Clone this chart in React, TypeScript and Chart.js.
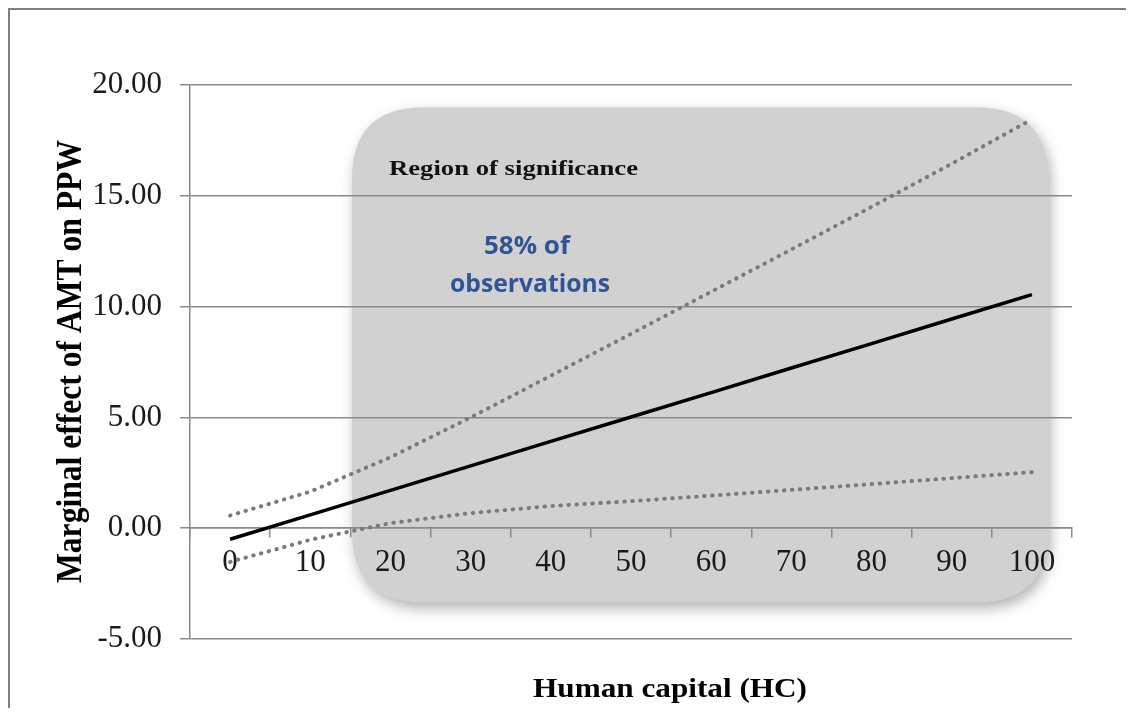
import React, { useEffect, useRef } from "react";
import { Chart, registerables } from "chart.js";

Chart.register(...registerables);

// ---- data ----
const categories = ["0", "10", "20", "30", "40", "50", "60", "70", "80", "90", "100"];
const marginalEffect = [-0.5, 0.6, 1.71, 2.81, 3.92, 5.02, 6.12, 7.23, 8.33, 9.44, 10.54];
const upperBound = [0.57, 1.65, 3.2, 5.0, 6.88, 8.77, 10.67, 12.58, 14.5, 16.45, 18.45];
const lowerBound = [-1.52, -0.52, 0.23, 0.68, 1.0, 1.22, 1.47, 1.73, 1.99, 2.26, 2.53];
const yTicks = [-5, 0, 5, 10, 15, 20];
// region of significance (HC units on x, effect units on y)
const regionHC = [15.2, 102];
const regionEffect = [-3.35, 19.0];

const yTitle = "Marginal effect of AMT on PPW";
const xTitle = "Human capital (HC)";
const regionTitle = "Region of significance";
const regionNote = ["58% of", "observations"];

const SERIF = "'Liberation Serif', 'Times New Roman', serif";
const SANS = "'Open Sans', 'Noto Sans', sans-serif";
const GRID = "#8a8a8a";

function drawFitted(
  ctx: CanvasRenderingContext2D,
  text: string,
  x: number,
  y: number,
  font: string,
  width: number,
  align: CanvasTextAlign,
  color: string,
  rotate = 0
) {
  ctx.save();
  ctx.font = font;
  const w = ctx.measureText(text).width;
  const sx = width / w;
  ctx.translate(x, y);
  if (rotate) ctx.rotate(rotate);
  ctx.scale(sx, 1);
  ctx.textAlign = align;
  ctx.textBaseline = "alphabetic";
  ctx.fillStyle = color;
  ctx.fillText(text, 0, 0);
  ctx.restore();
}

const regionPlugin = {
  id: "regionPlugin",
  beforeDraw(chart: any) {
    const { ctx, scales } = chart;
    const x = scales.x;
    const y = scales.y;
    const l = x.getPixelForValue(regionHC[0] / 10);
    const r = x.getPixelForValue(regionHC[1] / 10);
    const t = y.getPixelForValue(regionEffect[1]);
    const b = y.getPixelForValue(regionEffect[0]);
    const rad = 72;
    ctx.save();
    ctx.shadowColor = "rgba(0,0,0,0.3)";
    ctx.shadowBlur = 14;
    ctx.shadowOffsetX = 3;
    ctx.shadowOffsetY = 6;
    ctx.fillStyle = "#d1d1d1";
    ctx.beginPath();
    ctx.moveTo(l + rad, t);
    ctx.lineTo(r - rad, t);
    ctx.quadraticCurveTo(r, t, r, t + rad);
    ctx.lineTo(r, b - rad);
    ctx.quadraticCurveTo(r, b, r - rad, b);
    ctx.lineTo(l + rad, b);
    ctx.quadraticCurveTo(l, b, l, b - rad);
    ctx.lineTo(l, t + rad);
    ctx.quadraticCurveTo(l, t, l + rad, t);
    ctx.closePath();
    ctx.fill();
    ctx.restore();
  },
  afterDraw(chart: any) {
    const { ctx } = chart;
    drawFitted(ctx, regionTitle, 379, 165, `bold 22px ${SERIF}`, 249, "left", "#111");
    drawFitted(ctx, regionNote[0], 517, 244.3, `bold 25px ${SANS}`, 86, "center", "#2f5597");
    drawFitted(ctx, regionNote[1], 520, 281.7, `bold 25px ${SANS}`, 160, "center", "#2f5597");
    drawFitted(ctx, xTitle, 660, 687, `bold 28px ${SERIF}`, 274, "center", "#000");
    drawFitted(ctx, yTitle, 70.5, 351.5, `bold 36px ${SERIF}`, 443, "center", "#000", -Math.PI / 2);
  },
};

export default function App() {
  const ref = useRef<HTMLCanvasElement | null>(null);

  useEffect(() => {
    if (!ref.current) return;
    const chart = new Chart(ref.current, {
      type: "line",
      data: {
        labels: categories,
        datasets: [
          {
            label: "Marginal effect",
            data: marginalEffect,
            borderColor: "#000000",
            borderWidth: 3.5,
            pointRadius: 0,
            tension: 0,
            fill: false,
          },
          {
            label: "Upper bound",
            data: upperBound,
            borderColor: "#7a7a7a",
            borderWidth: 4,
            borderDash: [0.5, 7.5],
            borderCapStyle: "round",
            pointRadius: 0,
            tension: 0,
            fill: false,
          },
          {
            label: "Lower bound",
            data: lowerBound,
            borderColor: "#7a7a7a",
            borderWidth: 4,
            borderDash: [0.5, 7.5],
            borderCapStyle: "round",
            pointRadius: 0,
            tension: 0,
            fill: false,
          },
        ],
      },
      options: {
        animation: false,
        responsive: true,
        maintainAspectRatio: false,
        layout: { padding: { top: 75, right: 62, bottom: 69, left: 0 } },
        plugins: {
          legend: { display: false },
          tooltip: { enabled: false },
          title: { display: false },
        },
        scales: {
          x: {
            type: "category",
            position: { y: 0 } as any,
            offset: true,
            grid: {
              drawOnChartArea: false,
              drawTicks: true,
              tickLength: 9,
              offset: true,
              color: GRID,
              lineWidth: 1.5,
            },
            border: { display: true, color: GRID, width: 1.5 },
            ticks: {
              font: { family: SERIF, size: 31 },
              color: "#1a1a1a",
              padding: 7,
              maxRotation: 0,
              autoSkip: false,
            },
          },
          y: {
            min: yTicks[0],
            max: yTicks[yTicks.length - 1],
            ticks: {
              stepSize: yTicks[1] - yTicks[0],
              callback: (v: any) => Number(v).toFixed(2),
              font: { family: SERIF, size: 31 },
              color: "#1a1a1a",
              padding: 18,
            },
            grid: { color: GRID, lineWidth: 1.5, tickLength: 10, drawTicks: true },
            border: { display: true, color: GRID, width: 1.5 },
            afterFit: (s: any) => {
              s.width = 180;
            },
          },
        },
      },
      plugins: [regionPlugin],
    });
    return () => chart.destroy();
  }, []);

  return (
    <div
      style={{
        width: 1126,
        height: 700,
        boxSizing: "border-box",
        borderTop: "2px solid #7f7f7f",
        borderLeft: "2px solid #7f7f7f",
        background: "#ffffff",
      }}
    >
      <div style={{ position: "relative", width: 1124, height: 698 }}>
        <canvas ref={ref} style={{ display: "block" }} />
      </div>
    </div>
  );
}
